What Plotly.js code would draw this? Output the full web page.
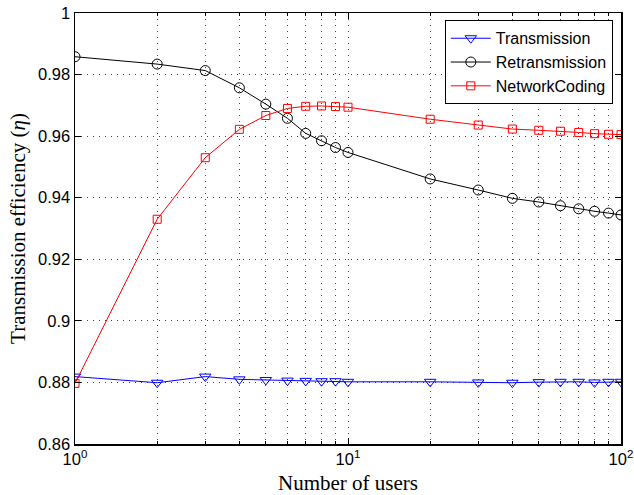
<!DOCTYPE html>
<html>
<head>
<meta charset="utf-8">
<script src="https://cdn.plot.ly/plotly-3.0.1.min.js"></script>
<style>html,body{margin:0;padding:0;background:#fff;}#chart{width:634px;height:495px;}</style>
</head>
<body>
<div id="chart"></div>
<script>
const users = [1,2,3,4,5,6,7,8,9,10,20,30,40,50,60,70,80,90,100];
const transmission = [0.8819,0.8799,0.8819,0.8810,0.8808,0.8806,0.8805,0.8804,0.8804,0.8802,0.8802,0.8800,0.8799,0.8801,0.8802,0.8802,0.8800,0.8802,0.8802];
const retransmission = [0.9858,0.9834,0.9813,0.9757,0.9704,0.9658,0.9609,0.9585,0.9563,0.9547,0.9461,0.9425,0.9398,0.9386,0.9374,0.9364,0.9356,0.9350,0.9344];
const networkCoding = [0.8797,0.9330,0.9530,0.9622,0.9667,0.9690,0.9697,0.9698,0.9696,0.9694,0.9655,0.9636,0.9623,0.9619,0.9616,0.9612,0.9608,0.9606,0.9605];
const xTickVals = [1,10,100];
const xTickText = ['10<sup>0</sup>','10<sup>1</sup>','10<sup>2</sup>'];
const xMinorVals = [2,3,4,5,6,7,8,9,20,30,40,50,60,70,80,90];
const yTickVals = [0.86,0.88,0.9,0.92,0.94,0.96,0.98,1];
const yTickText = ['0.86','0.88','0.9','0.92','0.94','0.96','0.98','1'];

const traces = [
  {x: users, y: transmission, name: 'Transmission', mode: 'lines+markers',
   line: {color: '#0000ff', width: 1}, marker: {symbol: 'triangle-down-open', size: 10, color: '#0000ff', line: {width: 1}}},
  {x: users, y: retransmission, name: 'Retransmission', mode: 'lines+markers',
   line: {color: '#000000', width: 1}, marker: {symbol: 'circle-open', size: 10, color: '#000000', line: {width: 1}}},
  {x: users, y: networkCoding, name: 'NetworkCoding', mode: 'lines+markers',
   line: {color: '#ff0000', width: 1}, marker: {symbol: 'square-open', size: 8, color: '#ff0000', line: {width: 1}}}
];

const gridDash = '1px,5px';
const layout = {
  width: 634, height: 495,
  margin: {l: 75, r: 13, t: 13, b: 51},
  paper_bgcolor: '#fff', plot_bgcolor: '#fff',
  font: {family: '"Liberation Sans", Arial, sans-serif', size: 16.5, color: '#000'},
  showlegend: true,
  legend: {x: 0.985, y: 0.983, xanchor: 'right', yanchor: 'top', bordercolor: '#000', borderwidth: 1,
           bgcolor: '#fff', font: {size: 16, family: '"Liberation Sans", Arial, sans-serif'}, tracegroupgap: 0, itemwidth: 40},
  xaxis: {
    type: 'log', range: [0, 2], tickvals: xTickVals, ticktext: xTickText,
    ticks: 'inside', ticklen: 6, tickcolor: '#000', mirror: 'allticks', showline: true, linecolor: '#000', linewidth: 1.5,
    showgrid: true, gridcolor: '#444', griddash: gridDash, gridwidth: 1, zeroline: false,
    minor: {tickvals: xMinorVals, ticks: 'inside', ticklen: 3, tickcolor: '#000', showgrid: true, gridcolor: '#444', griddash: gridDash, gridwidth: 1},
    title: {text: 'Number of users', font: {family: '"Liberation Serif", "Times New Roman", serif', size: 21}, standoff: 9},
    tickfont: {size: 16.5}
  },
  yaxis: {
    range: [0.86, 1], tickvals: yTickVals, ticktext: yTickText,
    ticks: 'inside', ticklen: 6, tickcolor: '#000', mirror: 'allticks', showline: true, linecolor: '#000', linewidth: 1.5,
    showgrid: true, gridcolor: '#444', griddash: gridDash, gridwidth: 1, zeroline: false,
    title: {text: 'Transmission efficiency (<i>η</i>)', font: {family: '"Liberation Serif", "Times New Roman", serif', size: 21}, standoff: 6},
    tickfont: {size: 16.5}
  }
};
Plotly.newPlot('chart', traces, layout, {displayModeBar: false, staticPlot: true});
</script>
</body>
</html>
